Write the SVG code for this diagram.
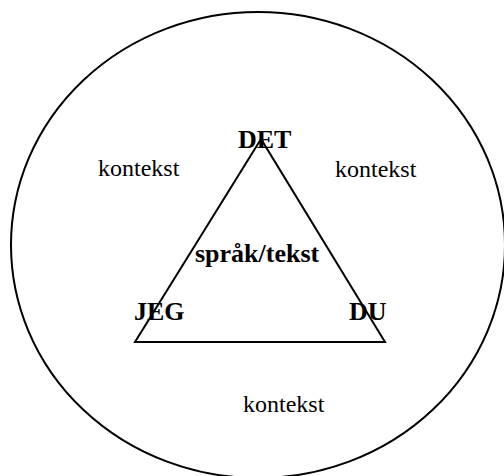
<svg xmlns="http://www.w3.org/2000/svg" width="504" height="476" viewBox="0 0 504 476">
<style>
.shape{fill:none;stroke:#000;stroke-width:2}
.ctx{font-family:"Liberation Serif","Times New Roman",serif;font-size:24px;fill:#000}
.lbl{font-family:"Liberation Serif","Times New Roman",serif;font-size:26px;font-weight:bold;fill:#000}
</style>
<rect width="504" height="476" fill="#fff"/>
<g id="context">
<ellipse class="shape" cx="258" cy="245" rx="247" ry="233"/>
<text class="ctx" x="98" y="176">kontekst</text>
<text class="ctx" x="335" y="177">kontekst</text>
<text class="ctx" x="243" y="412">kontekst</text>
</g>
<g id="connectors">
<polygon class="shape" points="261,139 135,342 385,342"/>
</g>
<g id="det"><text class="lbl" x="238" y="148">DET</text></g>
<g id="jeg"><text class="lbl" x="134" y="320">JEG</text></g>
<g id="du"><text class="lbl" x="349" y="320">DU</text></g>
<g id="sprak"><text class="lbl" x="195" y="262">språk/tekst</text></g>
</svg>
